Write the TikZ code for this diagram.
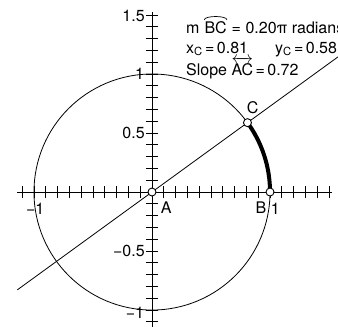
\documentclass[tikz,border=0pt]{standalone}
\usepackage{amsmath}
\usepackage{fontspec}
\setmainfont{TeX Gyre Heros}
\usetikzlibrary{positioning}

\newcommand{\arcover}[1]{\tikz[baseline=(arcw.base)]{\node[inner sep=0pt] (arcw) {#1};
  \draw[line width=0.7pt] ([yshift=1pt]arcw.north west) .. controls ([yshift=5.5pt]arcw.north west) and ([yshift=5.5pt]arcw.north east) .. ([yshift=1pt]arcw.north east);}}
\newcommand{\eqsp}{\hspace{0.15em}=\hspace{0.15em}}

\begin{document}
\begin{tikzpicture}[x=118pt,y=118pt,font=\fontsize{16}{18}\selectfont,line cap=butt,
  pt/.style={circle,draw,fill=white,line width=0.9pt,inner sep=0pt,minimum size=8pt},
  lbl/.style={inner sep=0pt},
  readout/.style={inner sep=0pt,anchor=base west,font=\fontsize{16}{18}\selectfont}]
\useasboundingbox (-1.288,-1.136) rectangle (1.576,1.627);
\coordinate (A) at (0,0);
\coordinate (B) at (1,0);
\coordinate (C) at (36:1);
\coordinate (lo) at (216:1.41);
\coordinate (hi) at (36:1.98);
% axes and ticks
\draw[line width=0.8pt] (-1.14,0) -- (1.525,0);
\draw[line width=0.8pt] (0,-1.2) -- (0,1.525);
\foreach \k in {-11,...,15} {
  \draw[line width=0.8pt] (\k/10,-0.05) -- (\k/10,0.05);
  \draw[line width=0.8pt] (-0.055,\k/10) -- (0.055,\k/10);
}
\node[lbl,anchor=north] (xm1) at (-0.99,-0.09) {−1};
\node[lbl,anchor=north] (xp1) at (1.045,-0.09) {1};
\node[lbl,anchor=east] (y15) at (-0.06,1.49) {1.5};
\node[lbl,anchor=east] (y1) at (-0.065,1) {1};
\node[lbl,anchor=east] (y05) at (-0.06,0.5) {0.5};
\node[lbl,anchor=east] (ym05) at (-0.06,-0.5) {−0.5};
\node[lbl,anchor=east] (ym1) at (-0.065,-1.02) {−1};
% circle, line AC, arc BC
\draw[line width=0.8pt] (A) circle (1);
\draw[line width=0.8pt] (lo) -- (hi);
\draw[line width=4pt] (B) arc (0:36:1);
% points
\node[pt] (pA) at (A) {};
\node[pt] (pB) at (B) {};
\node[pt] (pC) at (C) {};
\node[lbl] (labA) at (0.12,-0.13) {A};
\node[lbl] (labB) at (0.924,-0.13) {B};
\node[lbl] (labC) at (0.852,0.712) {C};
% measurements
\node[readout] (arcm) at (0.288,1.347) {m \arcover{BC} = 0.20π radians};
\node[readout] (xc) at (0.288,1.175) {x\textsubscript{C}\eqsp 0.81};
\node[readout] (yc) at (1.042,1.175) {y\textsubscript{C}\eqsp 0.58};
\node[readout] (slope) at (0.288,0.987) {Slope $\overleftrightarrow{\text{AC}}$\eqsp 0.72};
\end{tikzpicture}
\end{document}
